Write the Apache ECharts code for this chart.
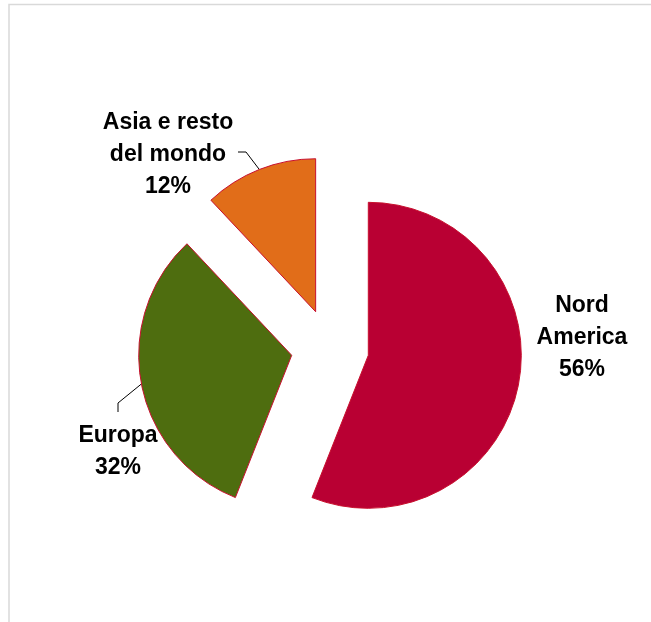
<!DOCTYPE html>
<html><head><meta charset="utf-8">
<script src="https://cdn.jsdelivr.net/npm/echarts@6/dist/echarts.min.js"></script>
<style>html,body{margin:0;padding:0;background:#fff}#c{width:651px;height:622px}</style>
</head><body><div id="c"></div>
<script>
const categories = ['Nord\nAmerica', 'Europa', 'Asia e resto\ndel mondo'];
const values = [56, 32, 12];
const colors = ['#b90033', '#4e6d0f', '#e16d19'];
const labelPos = [[582, 338], [118, 452], [168, 155]];

const CX = 330, CY = 348, R = 153, OFFSET = 39;
const total = values.reduce((a, b) => a + b, 0);
let acc = 0;
const series = values.map((v, i) => {
  acc += v;
  const midFrac = (acc - v / 2) / total;
  const ang = Math.PI / 2 - midFrac * 2 * Math.PI;
  const cx = CX + OFFSET * Math.cos(ang), cy = CY - OFFSET * Math.sin(ang);
  const anchor = [cx + R * Math.cos(ang), cy - R * Math.sin(ang)];
  return {
    type: 'pie', center: [cx, cy], radius: R, startAngle: 90, clockwise: true,
    avoidLabelOverlap: false, silent: true, animation: false,
    emphasis: { disabled: true },
    label: {
      formatter: '{b}\n{c}%', fontSize: 23, fontWeight: 'bold',
      fontFamily: 'Liberation Sans, Arial, sans-serif', color: '#000',
      lineHeight: 32, align: 'center'
    },
    labelLine: { lineStyle: { color: '#000', width: 1 }, smooth: false },
    labelLayout: function (params) {
      if (params.dataIndex !== i) return {};
      const lx = labelPos[i][0], ly = labelPos[i][1];
      const res = { x: lx, y: ly, align: 'center', verticalAlign: 'middle' };
      if (i === 1) res.labelLinePoints = [anchor, [lx, ly - 49], [lx, ly - 40]];
      if (i === 2) res.labelLinePoints = [anchor, [lx + 78, ly - 3], [lx + 70, ly - 3]];
      return res;
    },
    data: values.map((vv, j) => ({
      name: categories[j], value: vv,
      itemStyle: j === i ? { color: colors[j], borderColor: '#c8102e', borderWidth: 1 }
                         : { color: 'rgba(0,0,0,0)', borderWidth: 0 },
      label: { show: j === i },
      labelLine: { show: j === i && i !== 0 }
    }))
  };
});

const chart = echarts.init(document.getElementById('c'), null, { renderer: 'canvas' });
chart.setOption({
  backgroundColor: '#fff',
  animation: false,
  graphic: [{
    type: 'rect', silent: true,
    shape: { x: 9, y: 4.5, width: 700, height: 700 },
    style: { fill: 'none', stroke: '#d9d9d9', lineWidth: 1.5 }
  }],
  series: series
});
</script></body></html>
